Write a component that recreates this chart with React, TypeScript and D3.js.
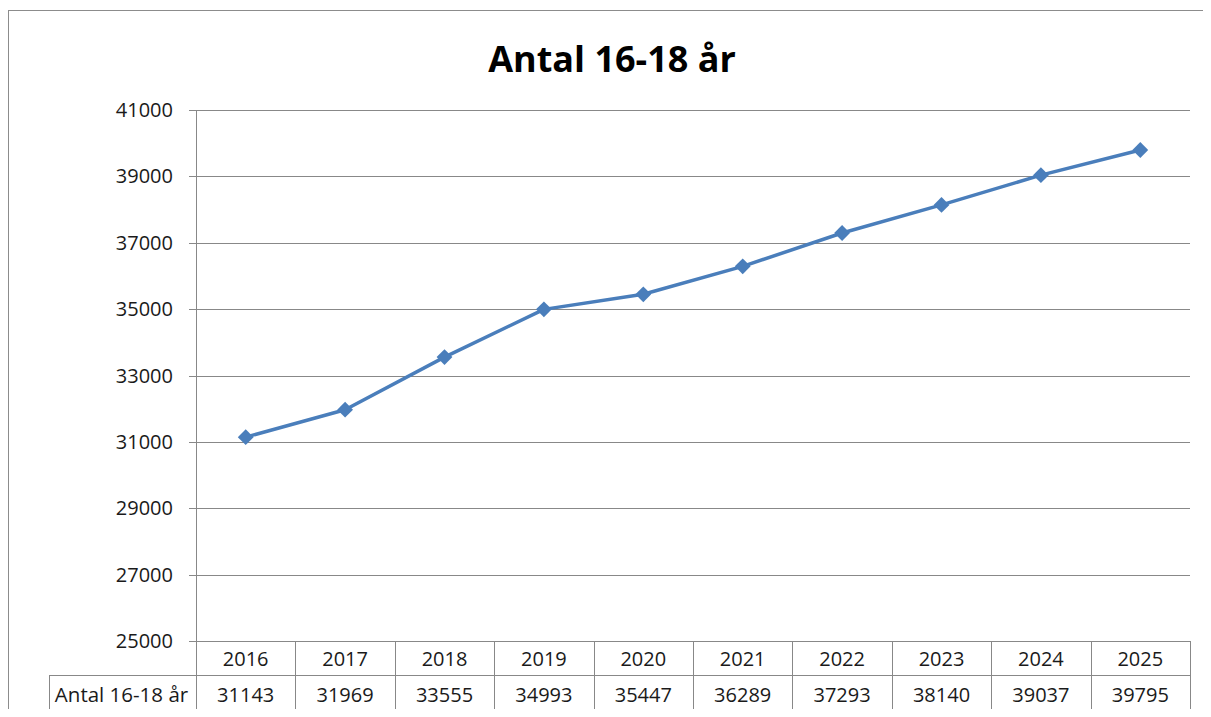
import React from "react";
import * as d3 from "d3";

const years = ["2016", "2017", "2018", "2019", "2020", "2021", "2022", "2023", "2024", "2025"];
const antal = [31143, 31969, 33555, 34993, 35447, 36289, 37293, 38140, 39037, 39795];
const yTicks = [25000, 27000, 29000, 31000, 33000, 35000, 37000, 39000, 41000];
const seriesName = "Antal 16-18 år";
const title = "Antal 16-18 år";

const W = 1211;
const H = 717;
const FONT = "'Open Sans', sans-serif";

export default function App() {
  const left = 196;
  const right = 1190;
  const top = 110;
  const bottom = 641;
  const row1 = 675;
  const row2 = 712;
  const tableLeft = 49;

  const x = d3.scaleBand().domain(years).range([left, right]);
  const y = d3.scaleLinear().domain([25000, 41000]).range([bottom, top]);

  const line = d3
    .line<number>()
    .x((_, i) => (x(years[i]) as number) + x.bandwidth() / 2)
    .y((d) => y(d));

  // square turned 45 degrees, like the Excel diamond marker
  const diamond = d3.symbol(d3.symbolSquare, 125)();

  return (
    <div style={{ margin: -8 }}>
      <svg width={W} height={H} style={{ display: "block", background: "#fff" }}>
        {/* outer border */}
        <rect x={8.5} y={10.5} width={1220} height={720} fill="none" stroke="#8c8c8c" strokeWidth={1} />

        <text x={612} y={72} textAnchor="middle" fontFamily={FONT} fontWeight="bold" fontSize={36} fill="#000">
          {title}
        </text>

        {/* gridlines + y ticks */}
        {yTicks.map((t) => (
          <g key={t}>
            <line x1={left - 7} x2={right} y1={Math.round(y(t)) + 0.5} y2={Math.round(y(t)) + 0.5} stroke="#888" strokeWidth={1} />
            <text x={173} y={y(t) + 7} textAnchor="end" fontFamily={FONT} fontSize={20} fill="#1a1a1a">
              {t}
            </text>
          </g>
        ))}

        {/* y axis line, continues into table */}
        <line x1={left + 0.5} x2={left + 0.5} y1={top} y2={row2} stroke="#888" />

        {/* table grid */}
        <line x1={tableLeft} x2={right} y1={row1 + 0.5} y2={row1 + 0.5} stroke="#888" />
        <line x1={tableLeft} x2={right} y1={row2 + 0.5} y2={row2 + 0.5} stroke="#888" />
        <line x1={tableLeft + 0.5} x2={tableLeft + 0.5} y1={row1} y2={row2} stroke="#888" />
        {years.map((yr) => {
          const xr = Math.round((x(yr) as number) + x.bandwidth()) + 0.5;
          return <line key={yr} x1={xr} x2={xr} y1={bottom} y2={row2} stroke="#888" />;
        })}
        {years.map((yr, i) => {
          const cx = (x(yr) as number) + x.bandwidth() / 2;
          return (
            <g key={"t" + yr}>
              <text x={cx} y={666} textAnchor="middle" fontFamily={FONT} fontSize={20} fill="#1a1a1a">
                {yr}
              </text>
              <text x={cx} y={702} textAnchor="middle" fontFamily={FONT} fontSize={20} fill="#1a1a1a">
                {antal[i]}
              </text>
            </g>
          );
        })}
        <text x={(tableLeft + left) / 2 - 1} y={702} textAnchor="middle" fontFamily={FONT} fontSize={20.5} fill="#1a1a1a">
          {seriesName}
        </text>

        {/* series */}
        <path d={line(antal) ?? ""} fill="none" stroke="#4a7ebb" strokeWidth={3.5} strokeLinejoin="round" />
        {antal.map((v, i) => (
          <path
            key={i}
            d={diamond ?? ""}
            transform={`translate(${(x(years[i]) as number) + x.bandwidth() / 2},${y(v)}) rotate(45)`}
            fill="#4a7ebb"
          />
        ))}
      </svg>
    </div>
  );
}
